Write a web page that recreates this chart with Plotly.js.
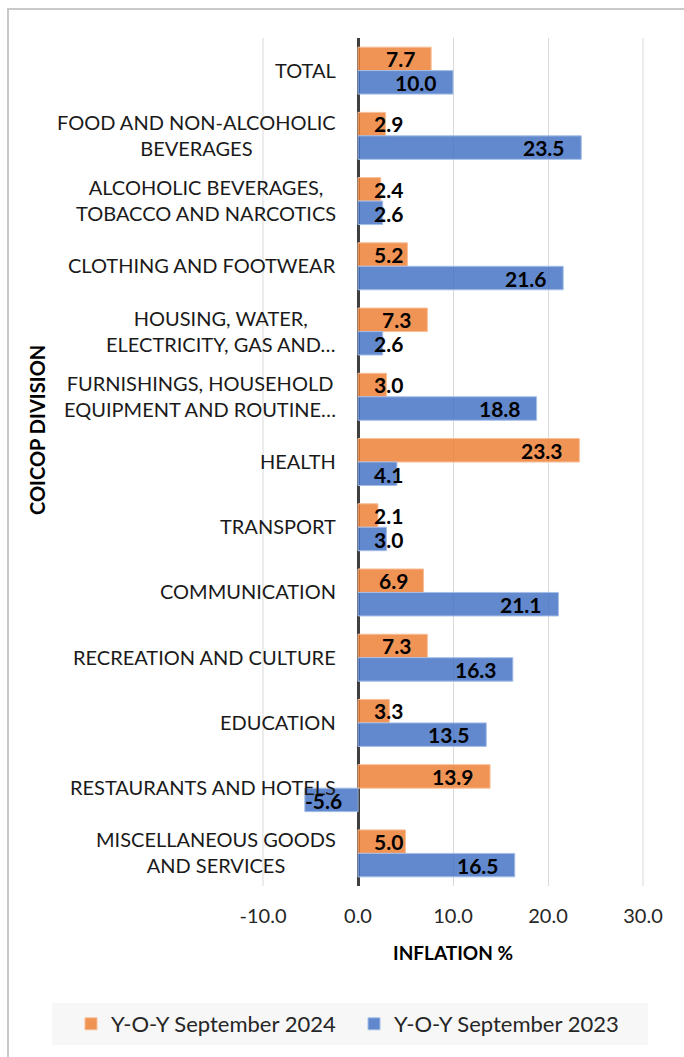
<!DOCTYPE html>
<html>
<head>
<meta charset="utf-8">
<script src="https://cdn.plot.ly/plotly-3.0.1.min.js"></script>
<style>
  html, body { margin: 0; padding: 0; background: #fff; }
  #myPlot { width: 684px; height: 1057px; }
</style>
</head>
<body>
<div id="myPlot"></div>
<script>
// categories, top to bottom
var categories = [
  "TOTAL",
  "FOOD AND NON-ALCOHOLIC<br>BEVERAGES",
  "ALCOHOLIC BEVERAGES,<br>TOBACCO AND NARCOTICS",
  "CLOTHING AND FOOTWEAR",
  "HOUSING, WATER,<br>ELECTRICITY, GAS AND…",
  "FURNISHINGS, HOUSEHOLD<br>EQUIPMENT AND ROUTINE…",
  "HEALTH",
  "TRANSPORT",
  "COMMUNICATION",
  "RECREATION AND CULTURE",
  "EDUCATION",
  "RESTAURANTS AND HOTELS",
  "MISCELLANEOUS GOODS<br>AND SERVICES"
];
var sep2024 = [7.7, 2.9, 2.4, 5.2, 7.3, 3.0, 23.3, 2.1, 6.9, 7.3, 3.3, 13.9, 5.0];
var sep2023 = [10.0, 23.5, 2.6, 21.6, 2.6, 18.8, 4.1, 3.0, 21.1, 16.3, 13.5, -5.6, 16.5];
var xTickVals = [-10, 0, 10, 20, 30];
var xTickText = ["-10.0", "0.0", "10.0", "20.0", "30.0"];

var W = 684, H = 1057;
var mL = 263, mR = 41, mT = 38, mB = 171;
var plotW = W - mL - mR, plotH = H - mT - mB;
function px2x(p) { return (p - mL) / plotW; }
function px2y(p) { return (H - mB - p) / plotH; }

var font = "Lato, 'Open Sans', sans-serif";
var textColor = "#262626";
var gridColor = "#d9d9d9";

var data = [
  {
    name: "Y-O-Y September 2024",
    y: categories,
    x: sep2024,
    type: "bar",
    orientation: "h",
    marker: { color: "rgba(237,125,49,0.82)", line: { color: "rgba(248,190,150,1)", width: 1 } },
    hoverinfo: "x"
  },
  {
    name: "Y-O-Y September 2023",
    y: categories,
    x: sep2023,
    type: "bar",
    orientation: "h",
    marker: { color: "rgba(68,114,196,0.84)", line: { color: "rgba(165,190,232,1)", width: 1 } },
    hoverinfo: "x"
  }
];

// category labels and value labels
var annotations = [];
categories.forEach(function(c) {
  annotations.push({
    xref: "x", yref: "y", x: 0, y: c, xanchor: "right", yanchor: "middle",
    xshift: -20, yshift: 1, showarrow: false, align: "center", text: c,
    font: { family: font, size: 20, color: "#1a1a1a" }
  });
});
function valueLabel(c, v, shift) {
  var a = {
    xref: "x", yref: "y", y: c, yanchor: "middle", yshift: shift,
    showarrow: false, text: "<b>" + v.toFixed(1) + "</b>",
    font: { family: font, size: 21, color: "#000" }
  };
  if (v < 0) { a.x = 0; a.xanchor = "right"; a.xshift = -14; }
  else if (v > 6) { a.x = v; a.xanchor = "right"; a.xshift = -14; }
  else { a.x = 0; a.xanchor = "left"; a.xshift = 14; }
  return a;
}
categories.forEach(function(c, i) {
  annotations.push(valueLabel(c, sep2024[i], 12));
  annotations.push(valueLabel(c, sep2023[i], -12));
});
annotations.push({
  xref: "paper", yref: "paper", x: px2x(37), y: px2y(430),
  xanchor: "center", yanchor: "middle", textangle: -90,
  showarrow: false, text: "<b>COICOP DIVISION</b>",
  font: { family: font, size: 20, color: "#000" }
});

// gridlines at the range ends (plotly drops them at the plot edges)
var edgeGrid = [0, 1].map(function(p) {
  return { type: "line", xref: "paper", yref: "paper", layer: "below",
    x0: p, x1: p, y0: 0, y1: 1, line: { color: gridColor, width: 1 } };
});

var layout = {
  width: W, height: H,
  margin: { l: mL, r: mR, t: mT, b: mB },
  paper_bgcolor: "#fff",
  plot_bgcolor: "#fff",
  barmode: "group",
  bargap: 0.28,
  bargroupgap: 0,
  showlegend: true,
  xaxis: {
    range: [-10, 30],
    tickvals: xTickVals,
    ticktext: xTickText,
    showgrid: true,
    gridcolor: gridColor,
    gridwidth: 1,
    zeroline: true,
    zerolinecolor: "#3f3f3f",
    zerolinewidth: 3,
    showline: false,
    ticks: "",
    ticklabelstandoff: 16,
    tickfont: { family: font, size: 20, color: textColor },
    title: { text: "<b>INFLATION %</b>", font: { family: font, size: 19, color: "#000" }, standoff: 20 },
    fixedrange: true
  },
  yaxis: {
    autorange: "reversed",
    showticklabels: false,
    showgrid: false,
    zeroline: false,
    ticks: "",
    fixedrange: true
  },
  legend: {
    orientation: "h",
    x: px2x(71), xanchor: "left",
    y: px2y(1024), yanchor: "middle",
    bgcolor: "rgba(0,0,0,0)",
    font: { family: font, size: 22, color: textColor },
    traceorder: "normal",
    entrywidth: 238
  },
  shapes: [
    { type: "rect", xref: "paper", yref: "paper", layer: "below",
      x0: px2x(52), x1: px2x(648), y0: px2y(1003), y1: px2y(1045),
      fillcolor: "#f7f7f7", line: { width: 0 } },
    { type: "rect", xref: "paper", yref: "paper", layer: "below",
      x0: px2x(8), x1: px2x(720), y0: px2y(9), y1: px2y(1080),
      fillcolor: "rgba(0,0,0,0)", line: { color: "#c9c9c9", width: 2 } }
  ].concat(edgeGrid),
  annotations: annotations
};

Plotly.newPlot("myPlot", data, layout, { displayModeBar: false, staticPlot: true });
</script>
</body>
</html>
